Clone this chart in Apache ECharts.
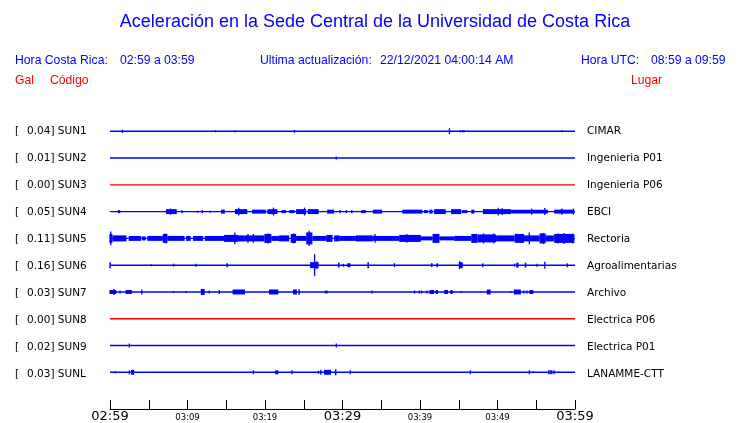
<!DOCTYPE html>
<html>
<head>
<meta charset="utf-8">
<script src="https://cdn.jsdelivr.net/npm/echarts@6/dist/echarts.min.js"></script>
<style>html,body{margin:0;padding:0;background:#fff;}#c{width:740px;height:423px;}</style>
</head>
<body>
<div id="c"></div>
<script>
// ---- data ----
const stations = ['SUN1','SUN2','SUN3','SUN4','SUN5','SUN6','SUN7','SUN8','SUN9','SUNL'];
const galMax = ['0.04','0.01','0.00','0.05','0.11','0.16','0.03','0.00','0.02','0.03'];
const places = ['CIMAR','Ingenieria P01','Ingenieria P06','EBCI','Rectoria','Agroalimentarias','Archivo','Electrica P06','Electrica P01','LANAMME-CTT'];
const tickLabels = ['02:59','03:09','03:19','03:29','03:39','03:49','03:59'];
// events per station: [startMinute, endMinute, halfAmplitude (Gal)]
const sun1 = [[1.6,1.6,0.022],[13.6,13.6,0.015],[16.1,16.1,0.015],[23.8,23.8,0.022],[43.8,43.8,0.044],[45.2,45.2,0.015],[45.5,45.5,0.015],[45.7,45.7,0.015],[58.3,58.3,0.015]];
const sun2 = [[29.2,29.2,0.022]];
const sun3 = [];
const sun4 = [[1.1,1.4,0.022],[7.3,8.7,0.036],[7.8,7.8,0.044],[9.3,9.3,0.022],[11.3,11.3,0.015],[11.9,11.9,0.022],[12.9,12.9,0.015],[14.4,14.9,0.029],[16.2,17.8,0.036],[16.6,16.6,0.058],[18.4,20.2,0.029],[20.4,21.7,0.036],[21.1,21.1,0.058],[22.2,22.8,0.022],[23.2,23.9,0.022],[24.1,25.4,0.036],[25.1,25.1,0.058],[25.6,27,0.036],[28.1,29,0.029],[29.7,29.7,0.022],[30.5,30.5,0.022],[31.2,31.2,0.022],[32.5,33.1,0.022],[34,35.2,0.029],[37.8,40.4,0.029],[40.6,41.1,0.022],[41.3,41.7,0.029],[41.9,43.4,0.036],[44.1,45.4,0.036],[45.5,46.2,0.022],[46.7,47.1,0.029],[48.2,51.8,0.036],[50.1,50.1,0.058],[50.6,50.6,0.051],[51.8,56.6,0.029],[54.4,54.4,0.044],[56.1,56.1,0.051],[57.4,60,0.029],[58.3,58.3,0.044],[59.8,59.8,0.044]];
const sun5 = [[0,0.4,0.065],[0.1,0.1,0.1],[0.4,2.2,0.044],[2.5,4.1,0.036],[4.2,4.7,0.029],[4.9,6.9,0.036],[6.9,7.5,0.065],[7.2,7.2,0.073],[7.5,9.7,0.036],[9.9,10.5,0.036],[10.8,12.1,0.036],[12.3,14.8,0.036],[14.8,16.6,0.051],[16.1,16.1,0.087],[16.6,17.4,0.044],[17.4,20,0.044],[17.8,17.8,0.065],[18.5,18.5,0.065],[20,20.9,0.065],[20.4,20.4,0.073],[20.9,21.9,0.036],[21.9,23.2,0.044],[23.4,24.1,0.065],[23.7,23.7,0.073],[24.1,25.4,0.036],[25.4,26.2,0.087],[25.7,25.7,0.11],[26.2,28,0.036],[28,28.8,0.051],[29,29.7,0.044],[29.7,31.8,0.036],[31.8,34,0.044],[34.2,34.2,0.065],[34,37.4,0.036],[37.4,40.2,0.051],[38.3,38.3,0.065],[40.2,41.7,0.029],[41.7,42.6,0.065],[42.6,44.5,0.029],[44.5,46.7,0.036],[46.7,47.5,0.065],[47.5,49.9,0.058],[48.2,48.2,0.073],[49.5,49.5,0.073],[49.9,52.3,0.044],[52.3,53.5,0.065],[54.1,54.1,0.087],[53.5,55.5,0.044],[55.5,56.3,0.073],[55.9,55.9,0.08],[56.3,57.4,0.044],[57.4,60,0.065],[57.8,57.8,0.073],[58.6,58.6,0.08],[59.7,59.7,0.073]];
const sun6 = [[0,0.2,0.044],[5.3,5.3,0.015],[8.2,8.2,0.022],[11.1,11.1,0.022],[15.1,15.3,0.029],[25.9,27,0.044],[26.4,26.4,0.16],[26.7,26.7,0.058],[29.5,29.7,0.036],[30.1,30.1,0.022],[30.7,31.1,0.029],[33.3,33.5,0.044],[36.7,36.7,0.029],[41.5,41.7,0.029],[42.2,42.4,0.029],[45.1,45.6,0.044],[45.1,45.1,0.058],[48.1,48.1,0.029],[52.2,52.2,0.022],[52.5,52.8,0.036],[53.6,53.8,0.036],[55.1,55.1,0.022],[56.1,56.1,0.051],[59,59,0.029]];
const sun7 = [[0,0.9,0.029],[0.5,0.5,0.044],[1.3,1.3,0.022],[2.1,2.9,0.029],[4.1,4.1,0.036],[8.2,8.2,0.015],[9.8,9.8,0.015],[11.8,12.3,0.044],[12.8,12.8,0.022],[14.1,14.1,0.029],[15.9,17.5,0.036],[20.6,21.8,0.036],[23.7,24.2,0.036],[24.4,24.4,0.044],[27.8,27.8,0.022],[28,28,0.022],[33.8,33.8,0.022],[39.3,39.3,0.022],[39.9,39.9,0.022],[40.2,40.2,0.022],[40.9,40.9,0.022],[41.3,41.9,0.029],[42.1,42.4,0.029],[43.2,43.7,0.029],[44,44.3,0.029],[45.3,45.3,0.015],[48.7,49.2,0.036],[51.7,51.7,0.015],[52.2,53.1,0.036],[53.4,53.4,0.022],[53.8,53.8,0.022],[54.2,54.7,0.029]];
const sun8 = [];
const sun9 = [[2.5,2.5,0.029],[29.2,29.2,0.029]];
const sunL = [[0.7,0.7,0.015],[2.5,2.5,0.029],[2.8,3.2,0.036],[18.5,18.5,0.029],[21.4,21.8,0.029],[23.5,23.5,0.029],[26.9,26.9,0.022],[27.2,27.2,0.036],[27.7,28.6,0.036],[29.1,29.3,0.044],[31,31,0.029],[46.5,46.5,0.029],[54.1,54.1,0.029],[54.6,54.6,0.015],[56.6,56.6,0.029],[56.8,56.8,0.029],[57.0,57.0,0.029],[57.3,57.3,0.029]];
const events = [sun1,sun2,sun3,sun4,sun5,sun6,sun7,sun8,sun9,sunL];

// ---- chart ----
const GAL_PER_TRACE = 0.39;
const BLUE = '#0000ff', RED = '#ee0000';
const traceColor = i => galMax[i] === '0.00' ? RED : BLUE;

const chart = echarts.init(document.getElementById('c'), null, {renderer:'canvas'});

const series = [];
stations.forEach((s, i) => {
  series.push({
    type:'line', data:[[0,i],[60,i]], symbol:'none', silent:true,
    lineStyle:{color:traceColor(i), width:1.4}, z:2
  });
});
const evData = [];
events.forEach((list, i) => list.forEach(e => evData.push([i, e[0], e[1], e[2]])));
series.push({
  type:'custom', silent:true, z:3,
  data: evData,
  encode:{x:[1,2], y:0},
  renderItem:(params, api) => {
    const idx = api.value(0), t0 = api.value(1), t1 = api.value(2), a = api.value(3);
    const p0 = api.coord([t0, idx]), p1 = api.coord([t1, idx]);
    const h = Math.max(1, api.size([0, a / GAL_PER_TRACE])[1]);
    const w = Math.max(1.3, p1[0] - p0[0]);
    return {type:'rect', shape:{x:p0[0]-0.65, y:p0[1]-h, width:w, height:2*h},
            style:{fill:traceColor(idx)}};
  }
});

const graphics = [];
const hdr = (text, x, y, color, size, align) => graphics.push({
  type:'text', silent:true,
  style:{text, x, y, fill:color, font:(size||12.2)+'px "Liberation Sans", Arial, sans-serif',
         align:align||'left', verticalAlign:'middle'}
});
hdr('Aceleración en la Sede Central de la Universidad de Costa Rica', 375, 22, BLUE, 18, 'center');
hdr('Hora Costa Rica:', 15, 61, BLUE);
hdr('02:59 a 03:59', 120, 61, BLUE);
hdr('Ultima actualización:', 260, 61, BLUE);
hdr('22/12/2021 04:00:14 AM', 380, 61, BLUE);
hdr('Hora UTC:', 581, 61, BLUE);
hdr('08:59 a 09:59', 651, 61, BLUE);
hdr('Gal', 15, 81, '#ff0000');
hdr('Código', 50, 81, '#ff0000');
hdr('Lugar', 631, 81, '#ff0000');

const lab = (text, x, y) => graphics.push({
  type:'text', silent:true,
  style:{text, x, y, fill:'#000', font:'10.5px "DejaVu Sans", sans-serif', align:'left', verticalAlign:'middle'}
});
stations.forEach((s, i) => {
  const y = 131 + 27 * i;
  lab('[', 15, y);
  lab(galMax[i] + '] ' + s, 27, y);
  lab(places[i], 587, y);
});

chart.setOption({
  animation:false,
  backgroundColor:'#fff',
  grid:{left:110, right:165, top:104.5, bottom:11.5, containLabel:false},
  xAxis:{
    type:'value', min:0, max:60, interval:5, position:'bottom',
    axisLine:{onZero:false, lineStyle:{color:'#000', width:1}},
    axisTick:{inside:true, length:9, lineStyle:{color:'#000', width:1}},
    splitLine:{show:false},
    axisLabel:{
      margin:0, showMinLabel:true, showMaxLabel:true,
      formatter:v => {
        if (v % 10 !== 0) return '';
        const k = v / 10;
        return (k % 3 === 0) ? '{maj|' + tickLabels[k] + '}' : '{min|' + tickLabels[k] + '}';
      },
      rich:{
        maj:{fontSize:13, fontFamily:'DejaVu Sans', color:'#000', padding:[1,0,0,0]},
        min:{fontSize:8.5, fontFamily:'DejaVu Sans', color:'#000', padding:[4,0,0,0]}
      }
    }
  },
  yAxis:{type:'value', min:-1, max:10.3704, inverse:true, show:false},
  series,
  graphic:graphics
});
</script>
</body>
</html>
